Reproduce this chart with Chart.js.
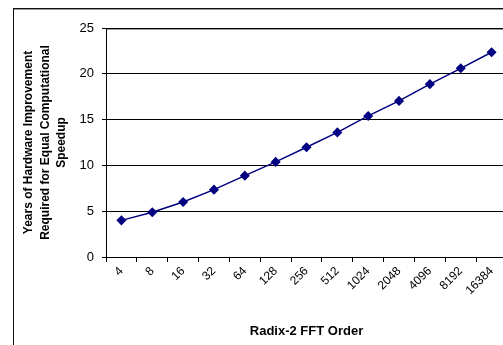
<!DOCTYPE html>
<html>
<head>
<meta charset="utf-8">
<script src="https://cdn.jsdelivr.net/npm/chart.js@4/dist/chart.umd.min.js"></script>
<style>
  html, body { margin: 0; padding: 0; background: #fff; overflow: hidden; }
  #wrap { position: absolute; left: 0; top: 0; width: 520px; height: 345px; }
</style>
</head>
<body>
<div id="wrap"><canvas id="myChart" width="520" height="345"></canvas></div>
<script>
const fftOrders = ['4', '8', '16', '32', '64', '128', '256', '512', '1024', '2048', '4096', '8192', '16384'];
const yearsNeeded = [4.0, 4.88, 6.0, 7.35, 8.88, 10.38, 11.98, 13.6, 15.4, 17.04, 18.87, 20.6, 22.35];
const yTicks = [0, 5, 10, 15, 20, 25];

const ctx = document.getElementById('myChart');

// outer frame of the chart object, runs off the right and bottom edge
const frame = {
  id: 'frame',
  afterDraw(chart) {
    const c = chart.ctx;
    const top = Math.round(chart.chartArea.top);
    c.save();
    c.fillStyle = '#111';
    c.fillRect(13, 8, 520, 1);
    c.fillRect(13, 8, 1, 400);
    c.fillStyle = '#999';
    c.fillRect(14, 9, 520, 1);
    // top edge of the plot area
    c.fillStyle = '#000';
    c.fillRect(chart.chartArea.left, top, 520, 1);
    c.fillStyle = '#999';
    c.fillRect(chart.chartArea.left + 1, top + 1, 520, 1);
    c.restore();
  },
};

new Chart(ctx, {
  type: 'line',
  data: {
    labels: fftOrders,
    datasets: [
      {
        data: yearsNeeded,
        borderColor: '#000080',
        backgroundColor: '#000080',
        borderWidth: 1.5,
        pointStyle: 'rectRot',
        pointRadius: 4,
        pointHoverRadius: 4,
        tension: 0,
      },
    ],
  },
  options: {
    responsive: false,
    animation: false,
    layout: { padding: { left: 20, top: 28, right: 13, bottom: 6 } },
    plugins: { legend: { display: false }, tooltip: { enabled: false } },
    scales: {
      x: {
        offset: true,
        grid: { offset: true, drawOnChartArea: false, color: '#000', tickLength: 5 },
        border: { color: '#000', width: 1 },
        ticks: {
          color: '#000',
          font: { family: 'Liberation Sans, Arial', size: 12 },
          minRotation: 45,
          maxRotation: 45,
          autoSkip: false,
          padding: 2,
        },
        title: {
          display: true,
          text: 'Radix-2 FFT Order',
          color: '#000',
          font: { family: 'Liberation Sans, Arial', size: 13, weight: 'bold' },
          padding: { top: 4, bottom: 0 },
        },
        afterFit(scale) { scale.height = 82; },
      },
      y: {
        min: 0,
        max: 25,
        afterBuildTicks(scale) { scale.ticks = yTicks.map(v => ({ value: v })); },
        grid: { color: '#000', tickLength: 4 },
        border: { color: '#000', width: 1 },
        ticks: {
          color: '#000',
          font: { family: 'Liberation Sans, Arial', size: 13 },
          padding: 8,
        },
        title: {
          display: true,
          text: ['Years of Hardware Improvement', 'Required for Equal Computational', 'Speedup'],
          color: '#000',
          font: { family: 'Liberation Sans, Arial', size: 12, weight: 'bold', lineHeight: 1.4 },
          padding: { top: 0, bottom: 0 },
        },
        afterFit(scale) { scale.width = 86; },
      },
    },
  },
  plugins: [frame],
});
</script>
</body>
</html>
